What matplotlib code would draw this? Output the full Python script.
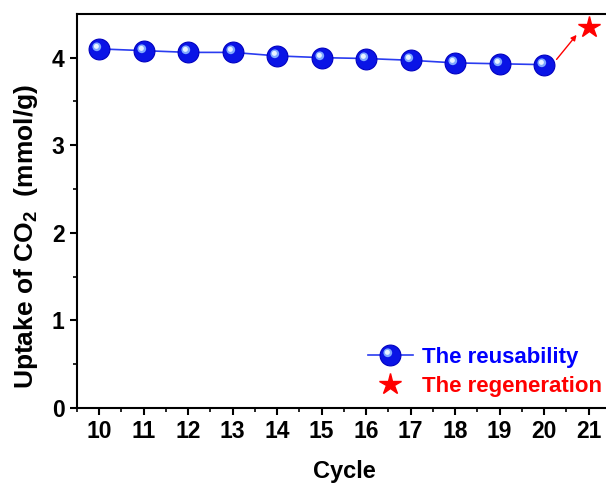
import numpy as np
import matplotlib
matplotlib.use('Agg')
import matplotlib.pyplot as plt
from matplotlib.path import Path
from matplotlib.legend_handler import HandlerTuple

plt.rcParams['font.family'] = ['Liberation Sans', 'DejaVu Sans']
plt.rcParams['font.weight'] = 'bold'
plt.rcParams['mathtext.fontset'] = 'custom'
plt.rcParams['mathtext.bf'] = 'Liberation Sans:bold'
plt.rcParams['mathtext.rm'] = 'Liberation Sans:bold'

# reusability cycles 10-20, regeneration at cycle 21
cycles = [10, 11, 12, 13, 14, 15, 16, 17, 18, 19, 20]
uptake = [4.10, 4.08, 4.06, 4.06, 4.02, 4.00, 3.99, 3.97, 3.94, 3.93, 3.92]
regen_cycle = [21]
regen_uptake = [4.35]

fig = plt.figure(figsize=(6.06, 4.86), dpi=100)
ax = fig.add_axes([0.127, 0.1605, 0.881, 0.811])

# highlight marker: circle offset to upper left of the sphere
ms = 15
circ = Path.circle(center=(-0.13, 0.13), radius=0.21)
hl_ms = ms * np.max(np.abs(circ.vertices)) / 0.5
circ2 = Path.circle(center=(-0.15, 0.15), radius=0.12)
hl2_ms = ms * np.max(np.abs(circ2.vertices)) / 0.5

line, = ax.plot(cycles, uptake, color='#2a3cf0', lw=1.2, marker='o', ms=ms,
                mfc='#0a14e6', mec='#0000c0', mew=0.8, zorder=3)
hl, = ax.plot(cycles, uptake, ls='none', marker=circ, ms=hl_ms,
              mfc='#7fa8ff', mec='none', zorder=4)
hl2, = ax.plot(cycles, uptake, ls='none', marker=circ2, ms=hl2_ms,
               mfc='#e8f4ff', mec='none', zorder=5)
star, = ax.plot(regen_cycle, regen_uptake, ls='none', marker='*', ms=16,
                color='#ff0000', zorder=4)

ax.annotate('', xy=(20.73, 4.26), xytext=(20.28, 3.98),
            arrowprops=dict(arrowstyle='-|>', color='#ff0000', lw=1.0,
                            mutation_scale=8, shrinkA=0, shrinkB=0))

ax.set_xlim(9.5, 21.5)
ax.set_ylim(0, 4.5)
ax.set_xticks(range(10, 22))
ax.set_xticks(np.arange(9.5, 21.6, 1.0), minor=True)
ax.set_yticks([0, 1, 2, 3, 4])
ax.set_yticks([0.5, 1.5, 2.5, 3.5], minor=True)
ax.tick_params(axis='both', which='major', direction='out', length=5, width=1.5,
               labelsize=16.5, pad=4)
ax.tick_params(axis='both', which='minor', direction='out', length=3, width=1.2)
for lab in ax.get_xticklabels() + ax.get_yticklabels():
    lab.set_fontweight('bold')
for s in ['left', 'bottom', 'top', 'right']:
    ax.spines[s].set_linewidth(1.5)

ax.set_xlabel('Cycle', fontsize=17, fontweight='bold', labelpad=12)
ax.set_ylabel(r'Uptake of CO$_\mathbf{2}$  (mmol/g)', fontsize=19,
              fontweight='bold')
ax.yaxis.set_label_coords(-0.07, 0.434)

leg = ax.legend([(line, hl, hl2), star], ['The reusability', 'The regeneration'],
                handler_map={tuple: HandlerTuple(ndivide=1)},
                loc='lower right', bbox_to_anchor=(1.02, -0.022), frameon=False,
                fontsize=16, handlelength=2.0, handletextpad=0.4,
                labelspacing=0.35, numpoints=1)
for t, c in zip(leg.get_texts(), ['#0000ff', '#ff0000']):
    t.set_color(c)
    t.set_fontweight('bold')

fig.savefig('out.png', dpi=100)
